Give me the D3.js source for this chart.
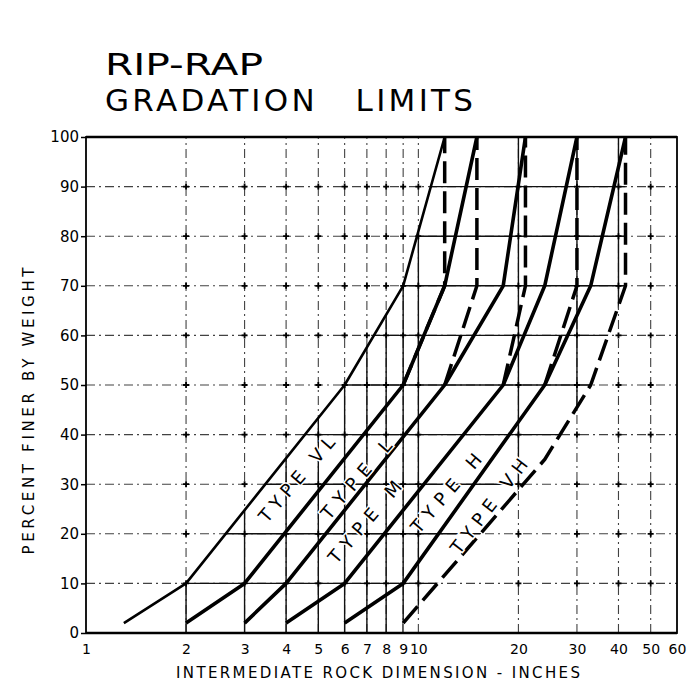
<!DOCTYPE html>
<html><head><meta charset="utf-8">
<script src="https://cdn.jsdelivr.net/npm/d3@7"></script>
<style>
html,body{margin:0;padding:0;background:#fff;}
svg{display:block;font-family:"DejaVu Sans",sans-serif;}
</style></head><body>
<svg id="chart" width="693" height="691"></svg>
<script>
// ---- data ----
const types       = ["VL", "L", "M", "H", "VH"];
const typeLabels  = ["TYPE VL", "TYPE L", "TYPE M", "TYPE H", "TYPE VH"];
const size100     = [12, 15, 21, 30, 42];   // 70-100 % finer
const size70      = [9, 12, 18, 24, 33];    // 50-70 % finer
const size50      = [6, 9, 12, 18, 24];     // 35-50 % finer
const size10      = [2, 3, 4, 6, 9];        // 2-10 % finer
const fineStart   = [1.3, 2, 3, 4, 6];      // 2 % point of fine limit
const finePct     = [2, 10, 50, 70, 100];
const coarsePct   = [2, 35, 50, 70, 100];
const labelSize   = [4.3, 6.5, 6.9, 12.1, 16.3];
const labelPct    = [31, 31, 22.4, 28.2, 25.6];
const labelLen    = [106, 98, 102, 98, 114];
const xTicks      = [1, 2, 3, 4, 5, 6, 7, 8, 9, 10, 20, 30, 40, 50, 60];
const yTicks      = [0, 10, 20, 30, 40, 50, 60, 70, 80, 90, 100];
const xGrid       = [2, 3, 4, 5, 6, 7, 8, 9, 10, 20, 30, 40, 50];
const yGrid       = [10, 20, 30, 40, 50, 60, 70, 80, 90];

// ---- build limit lines ----
const fineLines = types.map((t, i) => {
  const sizes = [fineStart[i], size10[i], size50[i], size70[i], size100[i]];
  return sizes.map((s, k) => [s, finePct[k]]);
});
const coarseFull = types.map((t, i) => {
  const sizes = [size10[i], size50[i], size70[i], size100[i], size100[i]];
  return sizes.map((s, k) => [s, coarsePct[k]]);
});
// only the part of each coarse limit that departs from the next fine limit is drawn,
// except the heaviest type whose coarse limit is drawn in full
const coarseLines = coarseFull.map((pts, i) => i === types.length - 1 ? pts : pts.slice(2));

const svg = d3.select("#chart");
const x = d3.scaleLog().domain([1, 60]).range([86, 677]);
const y = d3.scaleLinear().domain([0, 100]).range([633, 137]);
const line = d3.line().x(d => x(d[0])).y(d => y(d[1]));

// envelope region (grid drawn solid inside)
const env = [[fineStart[0], 0]].concat(fineLines[0],
  coarseFull[types.length - 1].slice().reverse(), [[size10[types.length - 1], 0]]);
svg.append("clipPath").attr("id", "env").append("path").attr("d", line(env) + "Z");

// grid
const gDash = svg.append("g").attr("stroke", "#222").attr("stroke-width", 1.1)
  .attr("stroke-dasharray", "9,4,2,4").attr("opacity", 0.85);
gDash.selectAll("line.v").data(xGrid).join("line").attr("class", "v")
  .attr("x1", d => x(d)).attr("x2", d => x(d)).attr("y1", y(0)).attr("y2", y(100));
gDash.selectAll("line.h").data(yGrid).join("line").attr("class", "h")
  .attr("y1", d => y(d)).attr("y2", d => y(d)).attr("x1", x(1)).attr("x2", x(60));

const gSolid = svg.append("g").attr("stroke", "#111").attr("stroke-width", 1.4)
  .attr("clip-path", "url(#env)");
gSolid.selectAll("line.v").data(xGrid).join("line").attr("class", "v")
  .attr("x1", d => x(d)).attr("x2", d => x(d)).attr("y1", y(0)).attr("y2", y(100));
gSolid.selectAll("line.h").data(yGrid).join("line").attr("class", "h")
  .attr("y1", d => y(d)).attr("y2", d => y(d)).attr("x1", x(1)).attr("x2", x(60));

// plus marks at grid intersections
const crosses = [];
xGrid.forEach(a => yGrid.forEach(b => crosses.push([a, b])));
const gPlus = svg.append("g").attr("stroke", "#000").attr("stroke-width", 1.8);
gPlus.selectAll("path").data(crosses).join("path")
  .attr("d", d => `M${x(d[0]) - 3},${y(d[1])}h6M${x(d[0])},${y(d[1]) - 3}v6`);

// frame
svg.append("rect").attr("x", x(1)).attr("y", y(100))
  .attr("width", x(60) - x(1)).attr("height", y(0) - y(100))
  .attr("fill", "none").attr("stroke", "#000").attr("stroke-width", 1.8);
svg.append("line").attr("x1", x(1)).attr("x2", x(60)).attr("y1", y(100)).attr("y2", y(100))
  .attr("stroke", "#000").attr("stroke-width", 2.4);
svg.append("line").attr("x1", x(1)).attr("x2", x(60)).attr("y1", y(0)).attr("y2", y(0))
  .attr("stroke", "#000").attr("stroke-width", 2.4);

// coarse limits (dashed)
svg.append("g").selectAll("path").data(coarseLines).join("path")
  .attr("d", line).attr("fill", "none").attr("stroke", "#000")
  .attr("stroke-width", 3.5).attr("stroke-dasharray", "22,8");

// fine limits (solid)
svg.append("g").selectAll("path").data(fineLines).join("path")
  .attr("d", line).attr("fill", "none").attr("stroke", "#000")
  .attr("stroke-width", (d, i) => i === 0 ? 2.6 : 3.6).attr("stroke-linejoin", "round");

// type labels along the bands
svg.append("g").selectAll("text").data(typeLabels).join("text")
  .attr("transform", (d, i) => {
    const ang = Math.atan2(y(50) - y(10), x(size50[i]) - x(size10[i])) * 180 / Math.PI;
    return `translate(${x(labelSize[i])},${y(labelPct[i])}) rotate(${ang + 2})`;
  })
  .attr("text-anchor", "middle").attr("dy", "0.36em")
  .attr("font-size", 18).attr("textLength", (d, i) => labelLen[i])
  .attr("lengthAdjust", "spacing")
  .attr("stroke", "#fff").attr("stroke-width", 3).attr("paint-order", "stroke")
  .attr("fill", "#000").text(d => d);

// axes
const yAxis = svg.append("g").attr("transform", `translate(${x(1)},0)`)
  .call(d3.axisLeft(y).tickValues(yTicks).tickSize(5).tickPadding(2).tickFormat(d3.format("d")));
yAxis.select(".domain").remove();
yAxis.selectAll("line").attr("stroke", "#000").attr("stroke-width", 1.5);
yAxis.selectAll("text").attr("font-size", 15).attr("font-family", "DejaVu Sans").attr("fill", "#000");

const xAxis = svg.append("g").attr("transform", `translate(0,${y(0)})`)
  .call(d3.axisBottom(x).tickValues(xTicks).tickSize(0).tickPadding(11).tickFormat(d3.format("d")));
xAxis.select(".domain").remove();
xAxis.selectAll("text").attr("font-size", 14).attr("font-family", "DejaVu Sans").attr("fill", "#000");

// title (two lines)
svg.append("text").attr("x", 105).attr("y", 74.5).attr("font-size", 31)
  .attr("textLength", 158).attr("lengthAdjust", "spacingAndGlyphs").text("RIP-RAP");
svg.append("text").attr("x", 105).attr("y", 111).attr("font-size", 31)
  .attr("textLength", 368).attr("lengthAdjust", "spacing").text("GRADATION\u2002\u2002LIMITS");

svg.append("text").attr("x", 176).attr("y", 678).attr("font-size", 15)
  .attr("textLength", 404).attr("lengthAdjust", "spacing")
  .text("INTERMEDIATE ROCK DIMENSION - INCHES");
svg.append("text").attr("transform", "translate(34,411) rotate(-90)")
  .attr("text-anchor", "middle").attr("font-size", 15)
  .attr("textLength", 287).attr("lengthAdjust", "spacing")
  .text("PERCENT FINER BY WEIGHT");
</script>
</body></html>
